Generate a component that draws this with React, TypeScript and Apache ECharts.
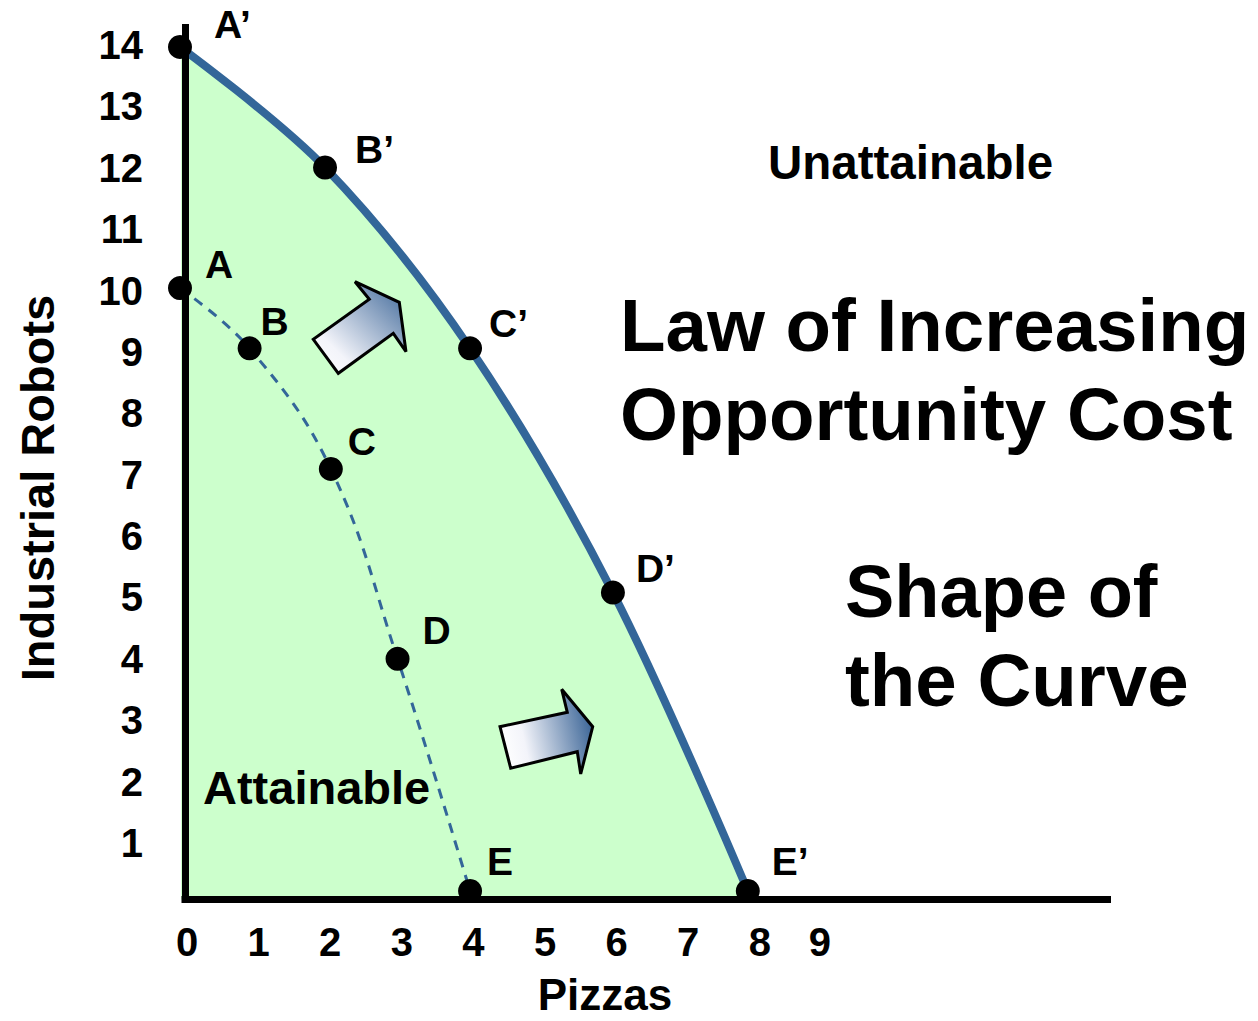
import React, { useEffect, useRef } from 'react';
import * as echarts from 'echarts';

// ---- data ----
const frontierX = [0, 2, 4, 5.97, 7.83];
const frontierY = [14, 12, 9, 4.95, 0];
const frontierLabels = ['A’', 'B’', 'C’', 'D’', 'E’'];

const innerX = [0, 0.96, 2.08, 3, 4];
const innerY = [10, 9, 7, 3.85, 0];
const innerLabels = ['A', 'B', 'C', 'D', 'E'];

const yTickValues = [1, 2, 3, 4, 5, 6, 7, 8, 9, 10, 11, 12, 13, 14];
const yTickLabels = ['1', '2', '3', '4', '5', '6', '7', '8', '9', '10', '11', '12', '13', '14'];
const xTickValues = [0, 1, 2, 3, 4, 5, 6, 7, 8, 8.84];
const xTickLabels = ['0', '1', '2', '3', '4', '5', '6', '7', '8', '9'];

// ---- styling ----
const FONT = '"Liberation Sans", Arial, Helvetica, sans-serif';
const BLUE = '#336699';
const GREEN = '#ccffcc';
const SYMBOL = 24;
const frontierLabelOffsets = [[34, -22], [30, -18], [19, -25], [23, -24], [24, -29]];
const innerLabelOffsets = [[25, -24], [11, -27], [17, -27], [25, -28], [17, -29]];

const bigText = (text: string, x: number, y: number, size: number) => ({
  type: 'text',
  x,
  y,
  z: 20,
  style: {
    text,
    fill: '#000',
    fontSize: size,
    fontWeight: 'bold',
    fontFamily: FONT,
    align: 'left',
    verticalAlign: 'middle',
  },
});

const arrowFill = (x: number, y: number, x2: number, y2: number) => ({
  type: 'linear',
  x,
  y,
  x2,
  y2,
  colorStops: [
    { offset: 0, color: '#ffffff' },
    { offset: 0.25, color: '#f3f4fa' },
    { offset: 1, color: '#3a6496' },
  ],
});

export default function App() {
  const ref = useRef<HTMLDivElement>(null);

  useEffect(() => {
    document.body.style.margin = '0';
    if (!ref.current) return;
    const chart = echarts.init(ref.current, undefined, { renderer: 'svg' });

    const pointLabel = (names: string[]) => ({
      show: true,
      position: 'right',
      distance: 0,
      formatter: (p: any) => names[p.dataIndex],
      color: '#000',
      opacity: 1,
      fontSize: 39,
      fontWeight: 'bold',
      fontFamily: FONT,
    });

    const option: any = {
      animation: false,
      backgroundColor: '#ffffff',
      grid: { left: 185, top: 27.5, width: 922.5, height: 872, containLabel: false },
      xAxis: [
        {
          type: 'value',
          position: 'bottom',
          min: 0.069,
          max: 12.79,
          z: 10,
          axisLine: { show: true, onZero: false, lineStyle: { color: '#000', width: 7, cap: 'square' } },
          axisTick: { show: false },
          axisLabel: { show: false },
          splitLine: { show: false },
        },
        {
          type: 'value',
          position: 'bottom',
          min: -0.028,
          max: 12.856,
          axisLine: { show: false, onZero: false },
          axisTick: { show: false },
          splitLine: { show: false },
          axisLabel: {
            show: true,
            customValues: xTickValues,
            formatter: (v: number) => xTickLabels[xTickValues.indexOf(v)] ?? '',
            color: '#000',
            fontSize: 40,
            fontWeight: 'bold',
            fontFamily: FONT,
            margin: 22,
          },
        },
      ],
      yAxis: [
        {
          type: 'value',
          position: 'left',
          min: -0.141,
          max: 14.322,
          z: 10,
          axisLine: { show: true, onZero: false, lineStyle: { color: '#000', width: 7, cap: 'square' } },
          axisTick: { show: false },
          axisLabel: { show: false },
          splitLine: { show: false },
        },
        {
          type: 'value',
          position: 'left',
          min: 0.0796,
          max: 14.285,
          axisLine: { show: false, onZero: false },
          axisTick: { show: false },
          splitLine: { show: false },
          axisLabel: {
            show: true,
            customValues: yTickValues,
            formatter: (v: number) => yTickLabels[yTickValues.indexOf(v)] ?? '',
            color: '#000',
            fontSize: 40,
            fontWeight: 'bold',
            fontFamily: FONT,
            margin: 42,
          },
        },
      ],
      series: [
        {
          type: 'line',
          xAxisIndex: 0,
          yAxisIndex: 0,
          data: frontierX.map((x, i) => [x, frontierY[i]]),
          smooth: 0.35,
          symbol: 'none',
          lineStyle: { color: BLUE, width: 8 },
          areaStyle: { color: GREEN, opacity: 1, origin: 'start' },
          z: 2,
        },
        {
          type: 'line',
          xAxisIndex: 0,
          yAxisIndex: 0,
          data: innerX.map((x, i) => [x, innerY[i]]),
          smooth: 0.4,
          symbol: 'none',
          lineStyle: { color: BLUE, width: 3, type: [10, 8] },
          z: 3,
        },
        {
          type: 'scatter',
          xAxisIndex: 0,
          yAxisIndex: 0,
          clip: false,
          symbolSize: SYMBOL,
          itemStyle: { color: '#000', opacity: 1 },
          label: pointLabel(frontierLabels),
          data: frontierX.map((x, i) => ({
            value: [x, frontierY[i]],
            label: { offset: [frontierLabelOffsets[i][0] - SYMBOL / 2, frontierLabelOffsets[i][1]] },
          })),
          z: 4,
        },
        {
          type: 'scatter',
          xAxisIndex: 0,
          yAxisIndex: 0,
          clip: false,
          symbolSize: SYMBOL,
          itemStyle: { color: '#000', opacity: 1 },
          label: pointLabel(innerLabels),
          data: innerX.map((x, i) => ({
            value: [x, innerY[i]],
            label: { offset: [innerLabelOffsets[i][0] - SYMBOL / 2, innerLabelOffsets[i][1]] },
          })),
          z: 4,
        },
      ],
      graphic: [
        bigText('Unattainable', 768, 162, 47.5),
        bigText('Law of Increasing', 620, 325, 74.5),
        bigText('Opportunity Cost', 620, 414, 74.5),
        bigText('Shape of', 845, 591, 74),
        bigText('the Curve', 845, 680, 74.5),
        bigText('Attainable', 203, 787, 47),
        {
          type: 'text',
          x: 37,
          y: 488,
          rotation: Math.PI / 2,
          z: 20,
          style: {
            text: 'Industrial Robots',
            fill: '#000',
            fontSize: 47,
            fontWeight: 'bold',
            fontFamily: FONT,
            align: 'center',
            verticalAlign: 'middle',
          },
        },
        {
          type: 'text',
          x: 605,
          y: 994,
          z: 20,
          style: {
            text: 'Pizzas',
            fill: '#000',
            fontSize: 44,
            fontWeight: 'bold',
            fontFamily: FONT,
            align: 'center',
            verticalAlign: 'middle',
          },
        },
        {
          type: 'polygon',
          z: 15,
          shape: {
            points: [
              [355, 281.7], [369.3, 299.3], [313.3, 339.3], [338.3, 373.3],
              [393.3, 333.3], [406, 351.7], [399.3, 302.3],
            ],
          },
          style: { fill: arrowFill(0, 1, 1, 0), stroke: '#000', lineWidth: 3, lineJoin: 'miter' },
        },
        {
          type: 'polygon',
          z: 15,
          shape: {
            points: [
              [561.7, 689.3], [567.3, 712.3], [500, 726.7], [510.7, 768.3],
              [577.3, 751.7], [580.7, 774], [592.7, 726.7],
            ],
          },
          style: { fill: arrowFill(0, 0.6, 1, 0.4), stroke: '#000', lineWidth: 3, lineJoin: 'miter' },
        },
      ],
    };

    chart.setOption(option);
    return () => chart.dispose();
  }, []);

  return <div ref={ref} style={{ width: 1258, height: 1021 }} />;
}
